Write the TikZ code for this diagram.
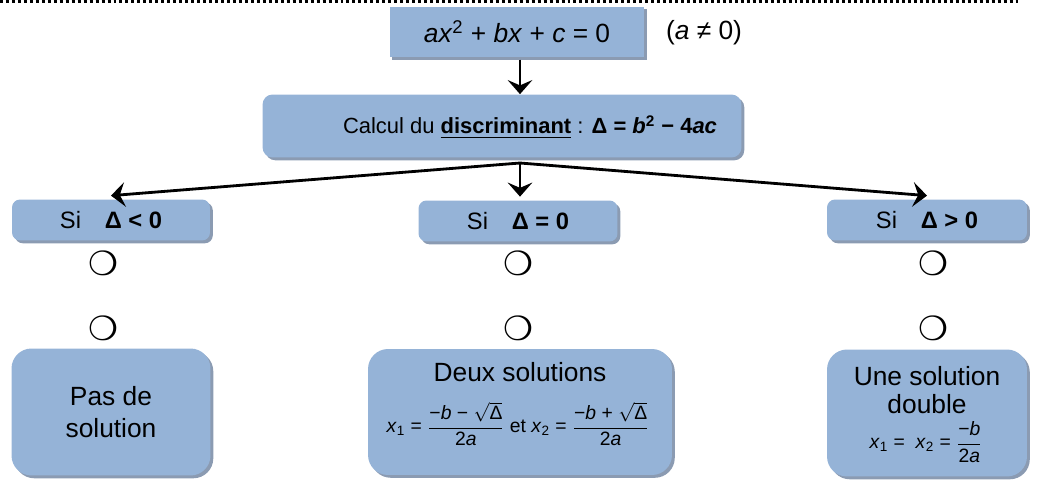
\documentclass[tikz,border=0pt]{standalone}
\usepackage{fontspec}
\setmainfont{Liberation Sans}
\newfontfamily\dingfont{DejaVu Sans}
\usepackage{amsmath}
\usetikzlibrary{arrows.meta,shadows}
\definecolor{boxblue}{HTML}{95B3D7}
\definecolor{boxshade}{HTML}{8B9BB2}

\begin{document}
\begin{tikzpicture}[x=0.02cm, y=-0.02cm,
    font=\fontsize{15}{18}\selectfont,
    boxsq/.style={fill=boxblue, inner sep=0pt, align=center,
      drop shadow={shadow xshift=1.6pt, shadow yshift=-1.6pt, fill=boxshade, opacity=1}},
    boxrd/.style={boxsq, rounded corners=#1},
    casebox/.style={boxrd=0.16cm, minimum height=0.82cm, font=\fontsize{13.5}{16}\selectfont},
    arr/.style={line width=1.6pt, -{Stealth[length=8pt,width=14pt,inset=3pt]}},
    ring/.style={font=\dingfont\fontsize{19}{19}\selectfont, inner sep=0pt},
    formula/.style={font=\fontsize{11}{13}\selectfont, inner sep=0pt}]
  \useasboundingbox (0,0) rectangle (1037,483);
  \draw[line width=1.2pt, dash pattern=on 1.7pt off 1.7pt] (0,1.5) -- (1018,1.5);

  % equation and discriminant
  \node[boxsq, minimum width=5.1cm, minimum height=1.02cm] (eq) at (517,32)
    {\textit{ax}\textsuperscript{2} + \textit{bx} + \textit{c} = 0};
  \node (cond) at (704,33) {(\textit{a} ≠ 0)};
  \node[boxrd=0.2cm, minimum width=9.58cm, minimum height=1.26cm] (disc) at (502,126) {};
  \node[font=\fontsize{12.5}{15}\selectfont] (disctxt) at (530,127)
    {Calcul du \underline{\textbf{discriminant}} : \textbf{Δ = \textit{b}\textsuperscript{2} − 4\textit{ac}}};
  \coordinate (split) at (520,163);

  % the three cases
  \node[casebox, minimum width=3.96cm] (neg) at (111,220) {Si\hspace{1em}\textbf{Δ < 0}};
  \node[casebox, minimum width=3.98cm] (zero) at (518,221) {Si\hspace{1em}\textbf{Δ = 0}};
  \node[casebox, minimum width=4.0cm] (pos) at (927,220) {Si\hspace{1em}\textbf{Δ > 0}};

  \draw[arr, shorten <=1pt] (eq.south -| split) -- (disc.north -| split);
  \draw[arr] (split) -- ([yshift=2pt]neg.north);
  \draw[arr] (split) -- ([yshift=2pt]zero.north -| split);
  \draw[arr] (split) -- ([yshift=2pt]pos.north);

  \node[ring] (negA) at (103,263) {❍};
  \node[ring] (negB) at (103,328) {❍};
  \node[ring] (zeroA) at (518,263) {❍};
  \node[ring] (zeroB) at (518,328) {❍};
  \node[ring] (posA) at (933,263) {❍};
  \node[ring] (posB) at (933,328) {❍};

  % results
  \node[boxrd=0.4cm, minimum width=3.98cm, minimum height=2.54cm] (noSol) at (111,412)
    {Pas de\\solution};
  \node[boxrd=0.4cm, minimum width=6.08cm, minimum height=2.52cm] (twoSol) at (520,412) {};
  \node[inner sep=0pt] (twoTxt) at (520,372) {Deux solutions};
  \node[formula] (twoForm) at (518,424)
    {\textit{x}\textsubscript{1} = $\dfrac{\text{−\textit{b} − }\sqrt{\text{Δ}}}{\text{2\textit{a}}}$
      et \textit{x}\textsubscript{2} = $\dfrac{\text{−\textit{b} + }\sqrt{\text{Δ}}}{\text{2\textit{a}}}$};
  \node[boxrd=0.4cm, minimum width=4.0cm, minimum height=2.54cm] (oneSol) at (927,413) {};
  \node[align=center, inner sep=0pt, font=\fontsize{15}{16}\selectfont] (oneTxt) at (927,390) {Une solution\\double};
  \node[formula] (oneForm) at (926,442)
    {\textit{x}\textsubscript{1} =\ \ \textit{x}\textsubscript{2} = $\dfrac{\text{−\textit{b}}}{\text{2\textit{a}}}$};
\end{tikzpicture}
\end{document}
